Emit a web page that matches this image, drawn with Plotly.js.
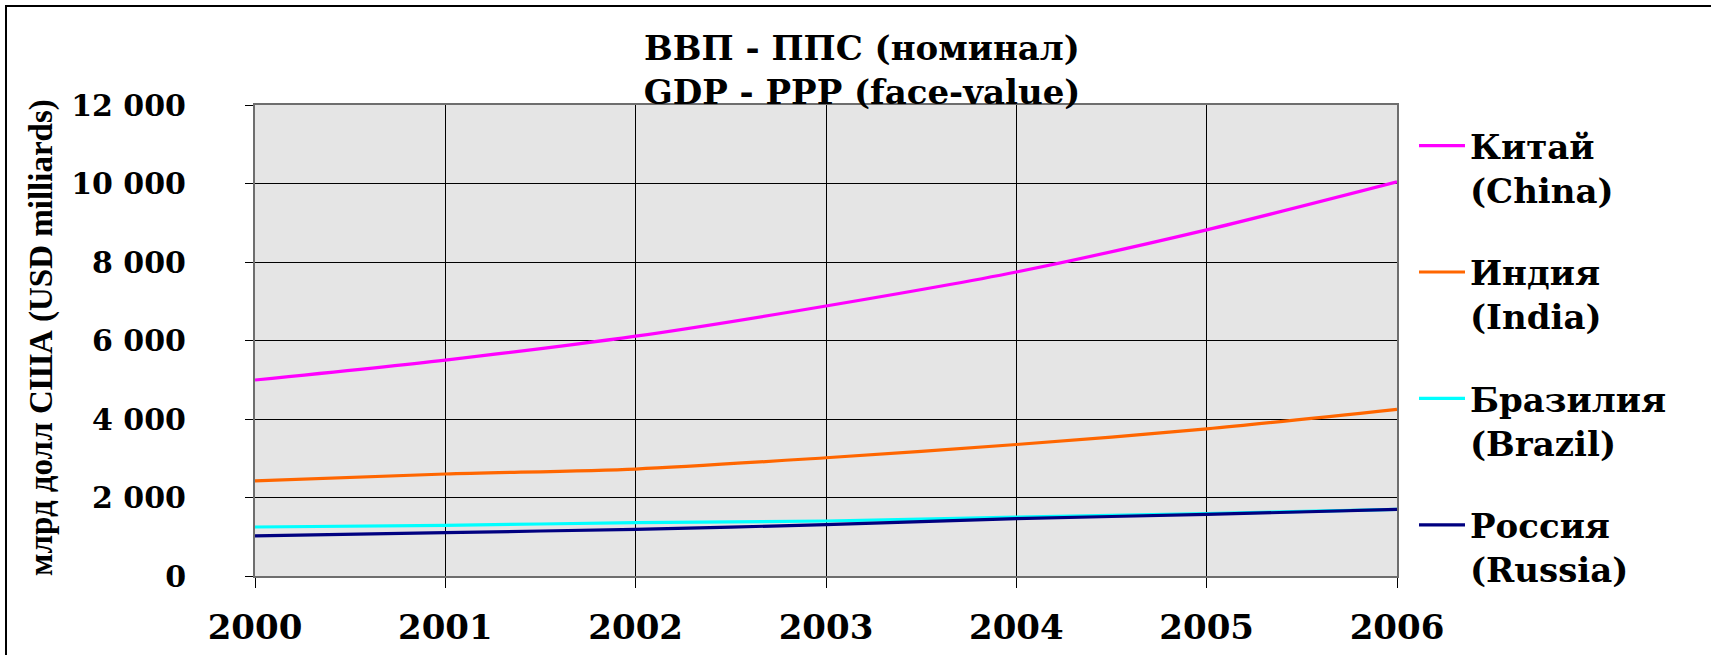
<!DOCTYPE html>
<html>
<head>
<meta charset="utf-8">
<script src="https://cdn.plot.ly/plotly-3.0.1.min.js"></script>
<style>
  html, body { margin: 0; padding: 0; background: #ffffff; }
  #chart { width: 1711px; height: 655px; }
</style>
</head>
<body>
<div id="chart"></div>
<script>
// ---- data ----
const years = [2000, 2001, 2002, 2003, 2004, 2005, 2006];
const china  = [4994, 5501, 6110, 6880, 7746, 8820, 10042];
const india  = [2422, 2599, 2725, 3013, 3350, 3747, 4245];
const brazil = [1249, 1291, 1359, 1401, 1500, 1590, 1700];
const russia = [1021, 1105, 1190, 1308, 1460, 1570, 1696];

const seriesNames  = ["Китай<br>(China)", "Индия<br>(India)", "Бразилия<br>(Brazil)", "Россия<br>(Russia)"];
const seriesValues = [china, india, brazil, russia];
const seriesColors = ["#FF00FF", "#FF6600", "#00FFFF", "#000080"];

const titleText  = "ВВП - ППС (номинал)<br>GDP - PPP (face-value)";
const yTitleText = "млрд долл США (USD milliards)";
const yTicks = [0, 2000, 4000, 6000, 8000, 10000, 12000];

// ---- layout geometry ----
const W = 1711, H = 655;
const L = 255, R = 314, T = 105, B = 79;
const pw = W - L - R, ph = H - T - B;
const px2x = p => (p - L) / pw;
const px2y = p => (H - B - p) / ph;

const wideFont = "DejaVu Serif, Liberation Serif, serif";

const traces = seriesNames.map((name, i) => ({
  type: "scatter",
  mode: "lines",
  name: name,
  x: years,
  y: seriesValues[i],
  legendgroup: "g" + i,
  line: { color: seriesColors[i], width: 3.2, shape: "spline", smoothing: 0.8 },
  hoverinfo: "x+y+name"
}));

const layout = {
  width: W, height: H,
  margin: { l: L, r: R, t: T, b: B, pad: 0 },
  paper_bgcolor: "#ffffff",
  plot_bgcolor: "#e5e5e5",
  separators: ", ",
  showlegend: true,
  title: {
    text: titleText,
    font: { family: wideFont, size: 34, color: "#000000", weight: "bold" },
    xref: "paper", x: px2x(862), xanchor: "center",
    yref: "container", y: 1 - 60 / H, yanchor: "middle"
  },
  xaxis: {
    range: [2000, 2006],
    tickvals: years,
    tickformat: "d",
    showgrid: true, gridcolor: "#000000", gridwidth: 1,
    showline: true, linecolor: "#6e6e6e", linewidth: 2, mirror: true,
    zeroline: false,
    ticks: "outside", ticklen: 10, tickwidth: 1, tickcolor: "#000000",
    ticklabelstandoff: 10,
    tickfont: { family: wideFont, size: 34, color: "#000000", weight: "bold" },
    fixedrange: true
  },
  yaxis: {
    range: [0, 12000],
    tickvals: yTicks,
    tickformat: ",d",
    showgrid: true, gridcolor: "#000000", gridwidth: 1,
    showline: true, linecolor: "#6e6e6e", linewidth: 2, mirror: true,
    zeroline: false,
    ticks: "outside", ticklen: 8, tickwidth: 1, tickcolor: "#000000",
    ticklabelstandoff: 53,
    tickfont: { family: wideFont, size: 30, color: "#000000", weight: "bold" },
    fixedrange: true
  },
  legend: {
    x: px2x(1414), xanchor: "left",
    y: px2y(117), yanchor: "top",
    bgcolor: "rgba(0,0,0,0)",
    borderwidth: 0,
    valign: "top",
    itemwidth: 46,
    tracegroupgap: 35,
    font: { family: wideFont, size: 34, color: "#000000", weight: "bold" },
    itemclick: false, itemdoubleclick: false
  },
  annotations: [{
    text: yTitleText,
    xref: "paper", yref: "paper",
    x: px2x(41), y: px2y(338),
    xanchor: "center", yanchor: "middle",
    textangle: -90,
    showarrow: false,
    font: { family: "Liberation Serif, serif", size: 33, color: "#000000", weight: "bold" }
  }],
  shapes: [{
    type: "rect", xref: "paper", yref: "paper",
    x0: px2x(6), x1: px2x(1716), y0: px2y(662), y1: px2y(6),
    line: { color: "#000000", width: 2 },
    fillcolor: "rgba(0,0,0,0)",
    layer: "below"
  }]
};

Plotly.newPlot("chart", traces, layout, { displayModeBar: false, staticPlot: true });
</script>
</body>
</html>
